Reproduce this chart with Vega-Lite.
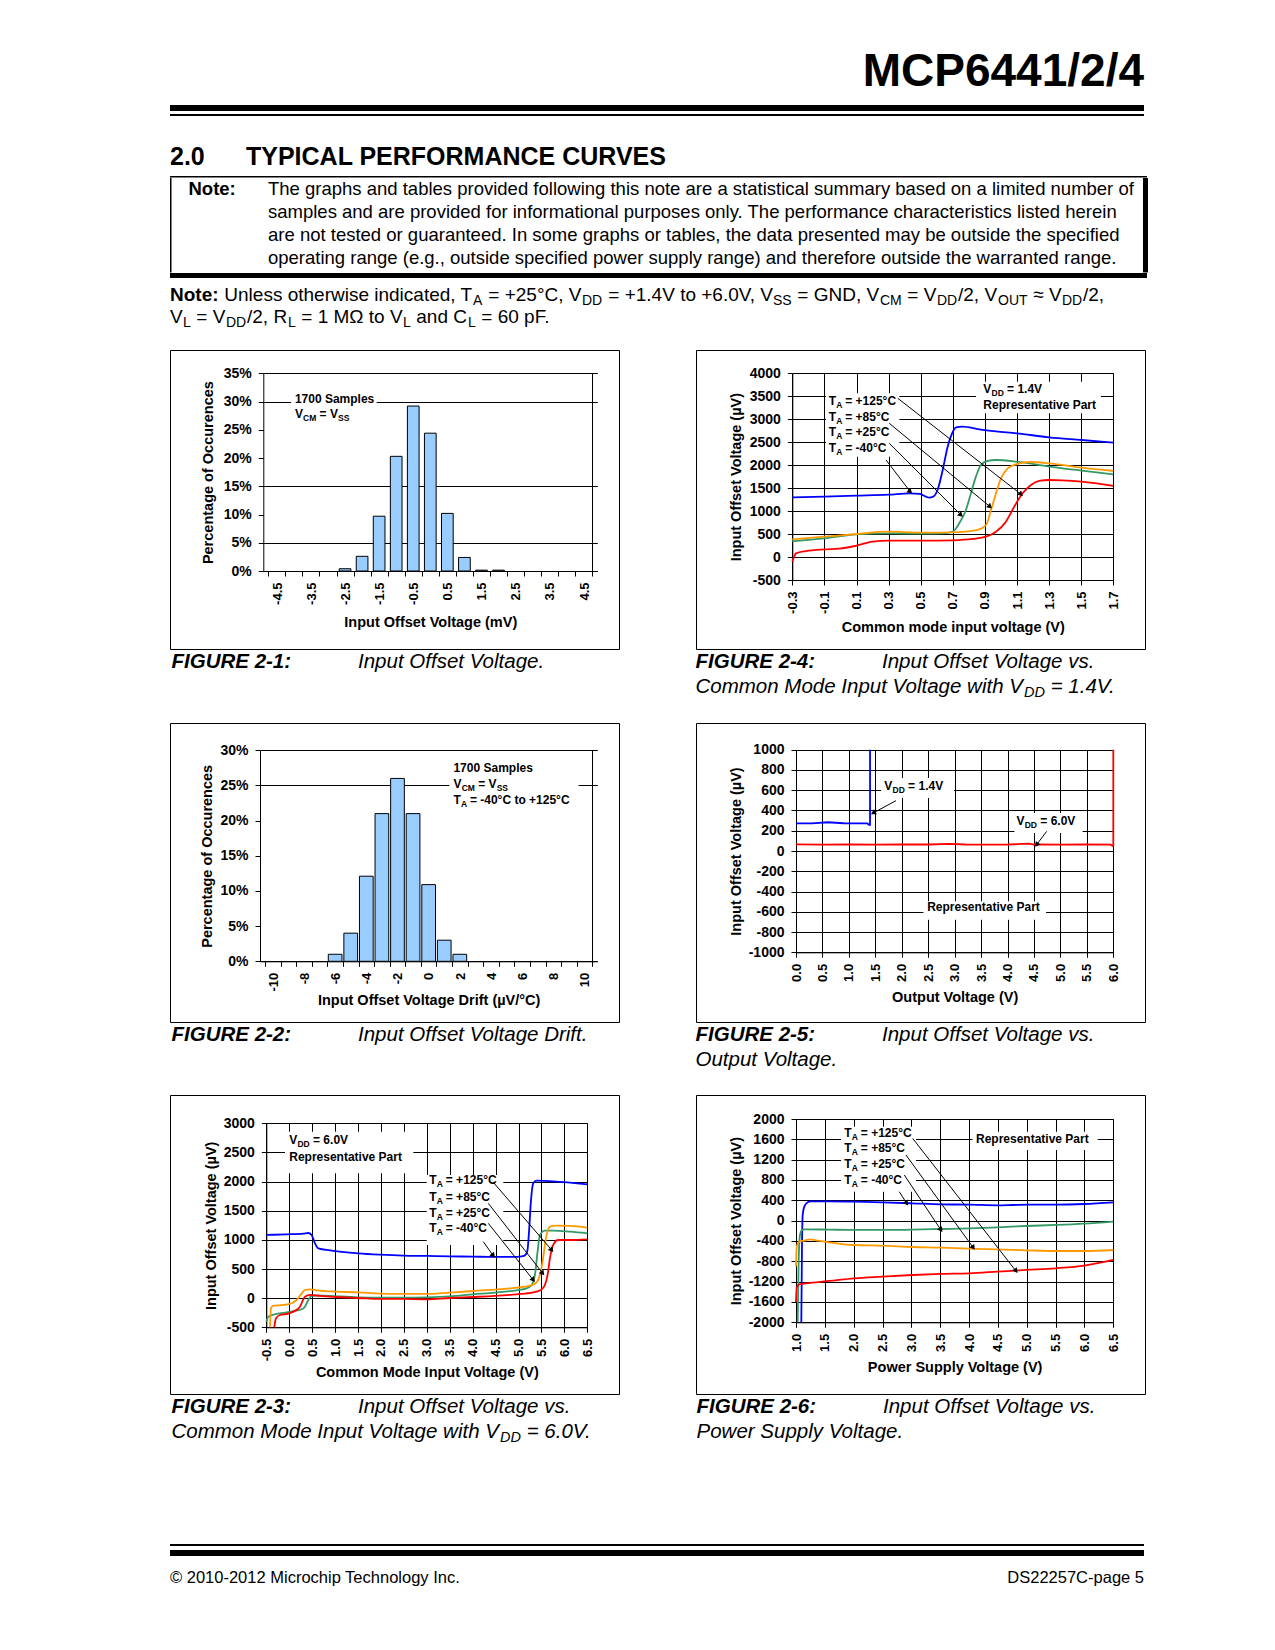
{
"$schema": "https://vega.github.io/schema/vega-lite/v6.json",
"background": "white",
"padding": {"left": 169, "top": 0, "right": 10, "bottom": 10},
"data": {"values": []},
"config": {
  "font": "Liberation Sans",
  "view": {"stroke": null},
  "concat": {"spacing": 0},
  "title": {"anchor": "start", "frame": "group", "color": "black", "fontWeight": "normal", "fontStyle": "normal"},
  "axis": {"labelFontWeight": "bold", "labelFontSize": 14, "labelColor": "black", "titleFontWeight": "bold", "titleFontSize": 14.5, "titleColor": "black", "domainColor": "black", "tickColor": "black", "gridColor": "black", "gridOpacity": 1, "tickSize": 5, "labelPadding": 6, "labelOverlap": false, "labelFlush": false, "labelBound": false, "titlePadding": 0},
  "locale": {"number": {"decimal": ".", "thousands": ",", "grouping": [3], "currency": ["$", ""], "minus": "-"}}
},
"datasets": {
  "b1": [{"x":-2.5,"y":0.4},{"x":-2.0,"y":2.6},{"x":-1.5,"y":9.7},{"x":-1.0,"y":20.3},{"x":-0.5,"y":29.2},{"x":0.0,"y":24.4},{"x":0.5,"y":10.2},{"x":1.0,"y":2.4},{"x":1.5,"y":0.15},{"x":2.0,"y":0.15}],
  "a1": [{"k":"plain","x":-3.97,"y":29.7,"a":"1700 Samples"},{"k":"VCM","x":-3.97,"y":27.0,"a":"V","b":"CM","c":"= V","d":"SS"}],
  "b2": [{"x":-6,"y":1.0},{"x":-5,"y":4.0},{"x":-4,"y":12.1},{"x":-3,"y":21.0},{"x":-2,"y":26.0},{"x":-1,"y":21.0},{"x":0,"y":10.9},{"x":1,"y":3.0},{"x":2,"y":1.0}],
  "a2": [{"k":"plain","x":1.59,"y":26.9,"a":"1700 Samples"},{"k":"VCM","x":1.59,"y":24.7,"a":"V","b":"CM","c":"= V","d":"SS"},{"k":"TA","x":1.59,"y":22.4,"a":"T","b":"A","c":"= -40°C to +125°C"}],
  "l4": [
    {"s":"-40","x":-0.3,"y":1300},{"s":"-40","x":-0.1,"y":1315},{"s":"-40","x":0.1,"y":1336},{"s":"-40","x":0.3,"y":1358},{"s":"-40","x":0.43,"y":1387},{"s":"-40","x":0.495,"y":1373},{"s":"-40","x":0.533,"y":1315},{"s":"-40","x":0.553,"y":1293},{"s":"-40","x":0.578,"y":1315},{"s":"-40","x":0.605,"y":1460},{"s":"-40","x":0.637,"y":1895},{"s":"-40","x":0.668,"y":2403},{"s":"-40","x":0.693,"y":2672},{"s":"-40","x":0.72,"y":2824},{"s":"-40","x":0.761,"y":2839},{"s":"-40","x":0.865,"y":2781},{"s":"-40","x":0.969,"y":2737},{"s":"-40","x":1.098,"y":2694},{"s":"-40","x":1.3,"y":2606},{"s":"-40","x":1.503,"y":2548},{"s":"-40","x":1.7,"y":2490},
    {"s":"25","x":-0.3,"y":342},{"s":"25","x":-0.1,"y":407},{"s":"25","x":0.1,"y":494},{"s":"25","x":0.3,"y":516},{"s":"25","x":0.5,"y":509},{"s":"25","x":0.637,"y":516},{"s":"25","x":0.7,"y":553},{"s":"25","x":0.74,"y":734},{"s":"25","x":0.782,"y":1024},{"s":"25","x":0.813,"y":1387},{"s":"25","x":0.844,"y":1750},{"s":"25","x":0.875,"y":2004},{"s":"25","x":0.917,"y":2091},{"s":"25","x":0.969,"y":2113},{"s":"25","x":1.098,"y":2077},{"s":"25","x":1.3,"y":1968},{"s":"25","x":1.503,"y":1881},{"s":"25","x":1.7,"y":1801},
    {"s":"85","x":-0.3,"y":385},{"s":"85","x":-0.1,"y":443},{"s":"85","x":0.1,"y":501},{"s":"85","x":0.3,"y":552},{"s":"85","x":0.5,"y":531},{"s":"85","x":0.7,"y":538},{"s":"85","x":0.782,"y":553},{"s":"85","x":0.855,"y":589},{"s":"85","x":0.907,"y":698},{"s":"85","x":0.938,"y":1024},{"s":"85","x":0.969,"y":1387},{"s":"85","x":1.0,"y":1714},{"s":"85","x":1.042,"y":1931},{"s":"85","x":1.094,"y":2019},{"s":"85","x":1.177,"y":2069},{"s":"85","x":1.3,"y":2040},{"s":"85","x":1.503,"y":1946},{"s":"85","x":1.7,"y":1873},
    {"s":"125","x":-0.3,"y":-101},{"s":"125","x":-0.277,"y":81},{"s":"125","x":-0.215,"y":131},{"s":"125","x":-0.1,"y":168},{"s":"125","x":-0.007,"y":182},{"s":"125","x":0.1,"y":248},{"s":"125","x":0.2,"y":335},{"s":"125","x":0.3,"y":356},{"s":"125","x":0.5,"y":356},{"s":"125","x":0.7,"y":364},{"s":"125","x":0.824,"y":393},{"s":"125","x":0.907,"y":443},{"s":"125","x":0.969,"y":552},{"s":"125","x":1.031,"y":770},{"s":"125","x":1.083,"y":1097},{"s":"125","x":1.135,"y":1387},{"s":"125","x":1.187,"y":1569},{"s":"125","x":1.238,"y":1656},{"s":"125","x":1.3,"y":1677},{"s":"125","x":1.383,"y":1670},{"s":"125","x":1.503,"y":1641},{"s":"125","x":1.7,"y":1547}
  ],
  "a4": [{"k":"TA","x":-0.073,"y":3310,"a":"T","b":"A","c":"= +125°C"},{"k":"TA","x":-0.073,"y":2968,"a":"T","b":"A","c":"= +85°C"},{"k":"TA","x":-0.073,"y":2635,"a":"T","b":"A","c":"= +25°C"},{"k":"TA","x":-0.073,"y":2293,"a":"T","b":"A","c":"= -40°C"},{"k":"VDD","x":0.89,"y":3565,"a":"V","b":"DD","c":"= 1.4V"},{"k":"plain","x":0.89,"y":3216,"a":"Representative Part"}],
  "r4": [{"x":0.357,"y":3456,"x2":1.125,"y2":1366},{"x":0.304,"y":2912,"x2":0.932,"y2":1096},{"x":0.304,"y":2476,"x2":0.751,"y2":915},{"x":0.284,"y":2113,"x2":0.435,"y2":1422}],
  "l5": [
    {"s":"1.4","x":0,"y":272},{"s":"1.4","x":0.3,"y":273},{"s":"1.4","x":0.6,"y":284},{"s":"1.4","x":0.9,"y":274},{"s":"1.4","x":1.2,"y":273},{"s":"1.4","x":1.35,"y":272},{"s":"1.4","x":1.385,"y":258},{"s":"1.4","x":1.395,"y":257},{"s":"1.4","x":1.4,"y":262},{"s":"1.4","x":1.4,"y":1000},
    {"s":"6.0","x":0,"y":65},{"s":"6.0","x":0.5,"y":62},{"s":"6.0","x":1.0,"y":64},{"s":"6.0","x":1.5,"y":63},{"s":"6.0","x":2.0,"y":64},{"s":"6.0","x":2.5,"y":64},{"s":"6.0","x":2.9,"y":71},{"s":"6.0","x":3.2,"y":64},{"s":"6.0","x":3.5,"y":63},{"s":"6.0","x":4.0,"y":64},{"s":"6.0","x":4.4,"y":73},{"s":"6.0","x":4.5,"y":64},{"s":"6.0","x":5.0,"y":63},{"s":"6.0","x":5.5,"y":64},{"s":"6.0","x":5.95,"y":62},{"s":"6.0","x":5.99,"y":50},{"s":"6.0","x":6.0,"y":58},{"s":"6.0","x":6.0,"y":1000}
  ],
  "a5": [{"k":"VDD","x":1.67,"y":605,"a":"V","b":"DD","c":"= 1.4V"},{"k":"VDD","x":4.17,"y":260,"a":"V","b":"DD","c":"= 6.0V"},{"k":"plain","x":2.48,"y":-595,"a":"Representative Part"}],
  "r5": [{"k":"a","x":1.89,"y":497,"x2":1.46,"y2":375},{"k":"b","x":4.74,"y":194,"x2":4.55,"y2":62}],
  "l3": [
    {"s":"-40","x":-0.5,"y":1084},{"s":"-40","x":-0.057,"y":1096},{"s":"-40","x":0.307,"y":1107},{"s":"-40","x":0.416,"y":1118},{"s":"-40","x":0.488,"y":1084},{"s":"-40","x":0.561,"y":941},{"s":"-40","x":0.634,"y":855},{"s":"-40","x":0.888,"y":821},{"s":"-40","x":1.506,"y":770},{"s":"-40","x":1.978,"y":747},{"s":"-40","x":2.487,"y":730},{"s":"-40","x":2.996,"y":724},{"s":"-40","x":3.504,"y":718},{"s":"-40","x":4.013,"y":712},{"s":"-40","x":4.485,"y":707},{"s":"-40","x":4.958,"y":707},{"s":"-40","x":5.118,"y":724},{"s":"-40","x":5.19,"y":798},{"s":"-40","x":5.234,"y":1199},{"s":"-40","x":5.27,"y":1656},{"s":"-40","x":5.321,"y":1971},{"s":"-40","x":5.394,"y":2016},{"s":"-40","x":5.757,"y":2005},{"s":"-40","x":6.12,"y":1982},{"s":"-40","x":6.5,"y":1953},
    {"s":"25","x":-0.5,"y":-403},{"s":"25","x":-0.456,"y":-317},{"s":"25","x":-0.275,"y":-271},{"s":"25","x":-0.057,"y":-243},{"s":"25","x":0.125,"y":-220},{"s":"25","x":0.27,"y":-191},{"s":"25","x":0.343,"y":-146},{"s":"25","x":0.416,"y":-31},{"s":"25","x":0.488,"y":38},{"s":"25","x":0.634,"y":49},{"s":"25","x":1.033,"y":32},{"s":"25","x":1.506,"y":15},{"s":"25","x":1.978,"y":9},{"s":"25","x":2.487,"y":9},{"s":"25","x":2.996,"y":15},{"s":"25","x":3.504,"y":32},{"s":"25","x":4.013,"y":66},{"s":"25","x":4.485,"y":95},{"s":"25","x":4.958,"y":135},{"s":"25","x":5.176,"y":169},{"s":"25","x":5.285,"y":226},{"s":"25","x":5.358,"y":398},{"s":"25","x":5.416,"y":798},{"s":"25","x":5.467,"y":1084},{"s":"25","x":5.576,"y":1158},{"s":"25","x":5.757,"y":1158},{"s":"25","x":6.12,"y":1141},{"s":"25","x":6.5,"y":1113},
    {"s":"85","x":-0.42,"y":-500},{"s":"85","x":-0.398,"y":-174},{"s":"85","x":-0.347,"y":-128},{"s":"85","x":-0.129,"y":-117},{"s":"85","x":0.052,"y":-88},{"s":"85","x":0.161,"y":-31},{"s":"85","x":0.249,"y":55},{"s":"85","x":0.343,"y":140},{"s":"85","x":0.452,"y":152},{"s":"85","x":0.597,"y":135},{"s":"85","x":1.033,"y":112},{"s":"85","x":1.506,"y":100},{"s":"85","x":1.978,"y":78},{"s":"85","x":2.487,"y":72},{"s":"85","x":2.996,"y":72},{"s":"85","x":3.504,"y":95},{"s":"85","x":4.013,"y":123},{"s":"85","x":4.485,"y":146},{"s":"85","x":4.958,"y":180},{"s":"85","x":5.249,"y":215},{"s":"85","x":5.394,"y":272},{"s":"85","x":5.467,"y":398},{"s":"85","x":5.525,"y":627},{"s":"85","x":5.597,"y":1027},{"s":"85","x":5.685,"y":1227},{"s":"85","x":5.83,"y":1244},{"s":"85","x":6.12,"y":1239},{"s":"85","x":6.5,"y":1210},
    {"s":"125","x":-0.326,"y":-500},{"s":"125","x":-0.289,"y":-346},{"s":"125","x":-0.202,"y":-289},{"s":"125","x":-0.02,"y":-266},{"s":"125","x":0.089,"y":-231},{"s":"125","x":0.234,"y":-146},{"s":"125","x":0.343,"y":26},{"s":"125","x":0.452,"y":55},{"s":"125","x":0.67,"y":38},{"s":"125","x":1.033,"y":20},{"s":"125","x":1.506,"y":3},{"s":"125","x":1.978,"y":-14},{"s":"125","x":2.487,"y":-14},{"s":"125","x":2.996,"y":-20},{"s":"125","x":3.504,"y":3},{"s":"125","x":4.013,"y":20},{"s":"125","x":4.485,"y":38},{"s":"125","x":4.958,"y":66},{"s":"125","x":5.321,"y":100},{"s":"125","x":5.488,"y":140},{"s":"125","x":5.576,"y":226},{"s":"125","x":5.634,"y":398},{"s":"125","x":5.685,"y":684},{"s":"125","x":5.757,"y":913},{"s":"125","x":5.866,"y":998},{"s":"125","x":6.12,"y":998},{"s":"125","x":6.5,"y":1010}
  ],
  "a3": [{"k":"TA","x":3.054,"y":1953,"a":"T","b":"A","c":"= +125°C"},{"k":"TA","x":3.054,"y":1667,"a":"T","b":"A","c":"= +85°C"},{"k":"TA","x":3.054,"y":1398,"a":"T","b":"A","c":"= +25°C"},{"k":"TA","x":3.054,"y":1130,"a":"T","b":"A","c":"= -40°C"},{"k":"VDD","x":0.0,"y":2640,"a":"V","b":"DD","c":"= 6.0V"},{"k":"plain","x":0.0,"y":2353,"a":"Representative Part"}],
  "r3": [{"x":4.45,"y":1988,"x2":5.723,"y2":826},{"x":4.341,"y":1627,"x2":5.527,"y2":427},{"x":4.341,"y":1284,"x2":5.322,"y2":312},{"x":4.232,"y":969,"x2":4.45,"y2":728}],
  "l6": [
    {"s":"-40","x":1.092,"y":-2000},{"s":"-40","x":1.104,"y":-479},{"s":"-40","x":1.116,"y":112},{"s":"-40","x":1.144,"y":276},{"s":"-40","x":1.202,"y":361},{"s":"-40","x":1.26,"y":380},{"s":"-40","x":1.578,"y":380},{"s":"-40","x":2.011,"y":374},{"s":"-40","x":2.502,"y":361},{"s":"-40","x":3.022,"y":341},{"s":"-40","x":3.513,"y":321},{"s":"-40","x":4.004,"y":315},{"s":"-40","x":4.495,"y":302},{"s":"-40","x":4.755,"y":308},{"s":"-40","x":5.044,"y":315},{"s":"-40","x":5.506,"y":315},{"s":"-40","x":5.997,"y":328},{"s":"-40","x":6.5,"y":361},
    {"s":"25","x":1.029,"y":-2000},{"s":"25","x":1.046,"y":-806},{"s":"25","x":1.069,"y":-282},{"s":"25","x":1.104,"y":-183},{"s":"25","x":1.144,"y":-170},{"s":"25","x":1.578,"y":-177},{"s":"25","x":2.011,"y":-183},{"s":"25","x":2.502,"y":-183},{"s":"25","x":3.022,"y":-177},{"s":"25","x":3.513,"y":-164},{"s":"25","x":4.004,"y":-151},{"s":"25","x":4.495,"y":-131},{"s":"25","x":4.986,"y":-105},{"s":"25","x":5.506,"y":-85},{"s":"25","x":5.997,"y":-59},{"s":"25","x":6.5,"y":-20},
    {"s":"85","x":1.0,"y":-900},{"s":"85","x":1.012,"y":-511},{"s":"85","x":1.058,"y":-413},{"s":"85","x":1.144,"y":-393},{"s":"85","x":1.231,"y":-367},{"s":"85","x":1.347,"y":-387},{"s":"85","x":1.578,"y":-426},{"s":"85","x":2.011,"y":-479},{"s":"85","x":2.502,"y":-492},{"s":"85","x":3.022,"y":-518},{"s":"85","x":3.513,"y":-531},{"s":"85","x":4.004,"y":-551},{"s":"85","x":4.495,"y":-564},{"s":"85","x":4.986,"y":-583},{"s":"85","x":5.506,"y":-597},{"s":"85","x":5.997,"y":-597},{"s":"85","x":6.5,"y":-577},
    {"s":"125","x":1.0,"y":-1600},{"s":"125","x":1.012,"y":-1318},{"s":"125","x":1.058,"y":-1252},{"s":"125","x":1.173,"y":-1233},{"s":"125","x":1.578,"y":-1187},{"s":"125","x":2.011,"y":-1134},{"s":"125","x":2.502,"y":-1101},{"s":"125","x":3.022,"y":-1069},{"s":"125","x":3.513,"y":-1049},{"s":"125","x":4.004,"y":-1036},{"s":"125","x":4.495,"y":-1003},{"s":"125","x":4.986,"y":-970},{"s":"125","x":5.506,"y":-937},{"s":"125","x":5.997,"y":-885},{"s":"125","x":6.5,"y":-774}
  ],
  "a6": [{"k":"TA","x":1.837,"y":1652,"a":"T","b":"A","c":"= +125°C"},{"k":"TA","x":1.837,"y":1345,"a":"T","b":"A","c":"= +85°C"},{"k":"TA","x":1.837,"y":1030,"a":"T","b":"A","c":"= +25°C"},{"k":"TA","x":1.837,"y":715,"a":"T","b":"A","c":"= -40°C"},{"k":"plain","x":4.12,"y":1522,"a":"Representative Part"}],
  "r6": [{"x":3.022,"y":1620,"x2":4.813,"y2":-991},{"x":2.906,"y":1292,"x2":4.073,"y2":-532},{"x":2.877,"y":898,"x2":3.513,"y2":-184},{"x":2.79,"y":570,"x2":2.918,"y2":341}]
},
"spacing": 0,
"vconcat": [
  {"width": 974, "height": 105, "mark": "point", "title": {"text": "MCP6441/2/4", "anchor": "end", "fontSize": 46, "fontWeight": "bold", "offset": -95.7}},
  {"width": 974, "height": 6, "mark": "point", "view": {"fill": "black"}},
  {"width": 974, "height": 3, "mark": "point"},
  {"width": 974, "height": 2, "mark": "point", "view": {"fill": "black"}},
  {"spacing": 0, "hconcat": [
    {"width": 76, "height": 60, "mark": "point", "title": {"text": "2.0", "fontSize": 25, "fontWeight": "bold", "offset": -54.3}},
    {"width": 898, "height": 60, "mark": "point", "title": {"text": "TYPICAL PERFORMANCE CURVES", "fontSize": 25, "fontWeight": "bold", "offset": -54.3}}
  ]},
  {"spacing": 0, "vconcat": [
    {"width": 977, "height": 1.5, "mark": "point", "view": {"fill": "black"}},
    {"spacing": 0, "hconcat": [
      {"width": 1.5, "height": 94.5, "mark": "point", "view": {"fill": "black"}},
      {"width": 95.5, "height": 94.5, "mark": "point", "title": {"text": "Note:", "fontSize": 18.5, "fontWeight": "bold", "dx": 16.5, "offset": -20.4}},
      {"width": 875, "height": 94.5, "mark": "point", "title": {"text": ["The graphs and tables provided following this note are a statistical summary based on a limited number of", "samples and are provided for informational purposes only. The performance characteristics listed herein", "are not tested or guaranteed. In some graphs or tables, the data presented may be outside the specified", "operating range (e.g., outside specified power supply range) and therefore outside the warranted range."], "fontSize": 18.5, "lineHeight": 23, "offset": -89.4}},
      {"width": 5, "height": 94.5, "mark": "point", "view": {"fill": "black"}}
    ]},
    {"width": 977, "height": 5, "mark": "point", "view": {"fill": "black"}}
  ]},
  {"spacing": 0, "hconcat": [
    {"width": 48.5, "height": 30, "mark": "point", "title": {"text": "Note:", "fontSize": 19, "fontWeight": "bold", "offset": -27}},
    {"width": 253.4, "height": 30, "mark": "point", "title": {"text": "Unless otherwise indicated, T", "fontSize": 19, "dx": 5.3, "offset": -27}},
    {"width": 9.3, "height": 30, "mark": "point", "title": {"text": "A", "fontSize": 14, "offset": -29.9}},
    {"width": 98.4, "height": 30, "mark": "point", "title": {"text": "= +25°C, V", "fontSize": 19, "dx": 5.3, "offset": -27}},
    {"width": 20.2, "height": 30, "mark": "point", "title": {"text": "DD", "fontSize": 14, "offset": -29.9}},
    {"width": 169.7, "height": 30, "mark": "point", "title": {"text": "= +1.4V to +6.0V, V", "fontSize": 19, "dx": 5.3, "offset": -27}},
    {"width": 18.7, "height": 30, "mark": "point", "title": {"text": "SS", "fontSize": 14, "offset": -29.9}},
    {"width": 87.1, "height": 30, "mark": "point", "title": {"text": "= GND, V", "fontSize": 19, "dx": 5.3, "offset": -27}},
    {"width": 21.8, "height": 30, "mark": "point", "title": {"text": "CM", "fontSize": 14, "offset": -29.9}},
    {"width": 34.3, "height": 30, "mark": "point", "title": {"text": "= V", "fontSize": 19, "dx": 5.3, "offset": -27}},
    {"width": 20.2, "height": 30, "mark": "point", "title": {"text": "DD", "fontSize": 14, "offset": -29.9}},
    {"width": 39.1, "height": 30, "mark": "point", "title": {"text": "/2, V", "fontSize": 19, "offset": -27}},
    {"width": 29.6, "height": 30, "mark": "point", "title": {"text": "OUT", "fontSize": 14, "offset": -29.9}},
    {"width": 33.7, "height": 30, "mark": "point", "title": {"text": "≈ V", "fontSize": 19, "dx": 5.3, "offset": -27}},
    {"width": 20.2, "height": 30, "mark": "point", "title": {"text": "DD", "fontSize": 14, "offset": -29.9}},
    {"width": 30, "height": 30, "mark": "point", "title": {"text": "/2,", "fontSize": 19, "offset": -27}}
  ]},
  {"spacing": 0, "hconcat": [
    {"width": 12.7, "height": 22, "mark": "point", "title": {"text": "V", "fontSize": 19, "offset": -19}},
    {"width": 7.8, "height": 22, "mark": "point", "title": {"text": "L", "fontSize": 14, "offset": -21.9}},
    {"width": 34.3, "height": 22, "mark": "point", "title": {"text": "= V", "fontSize": 19, "dx": 5.3, "offset": -19}},
    {"width": 20.2, "height": 22, "mark": "point", "title": {"text": "DD", "fontSize": 14, "offset": -21.9}},
    {"width": 40.1, "height": 22, "mark": "point", "title": {"text": "/2, R", "fontSize": 19, "offset": -19}},
    {"width": 7.8, "height": 22, "mark": "point", "title": {"text": "L", "fontSize": 14, "offset": -21.9}},
    {"width": 107, "height": 22, "mark": "point", "title": {"text": "= 1 MΩ to V", "fontSize": 19, "dx": 5.3, "offset": -19}},
    {"width": 7.8, "height": 22, "mark": "point", "title": {"text": "L", "fontSize": 14, "offset": -21.9}},
    {"width": 56, "height": 22, "mark": "point", "title": {"text": "and C", "fontSize": 19, "dx": 5.3, "offset": -19}},
    {"width": 7.8, "height": 22, "mark": "point", "title": {"text": "L", "fontSize": 14, "offset": -21.9}},
    {"width": 80, "height": 22, "mark": "point", "title": {"text": "= 60 pF.", "fontSize": 19, "dx": 5.3, "offset": -19}}
  ]},
  {"width": 974, "height": 19, "mark": "point"},
  {"spacing": 75, "hconcat": [
    {
      "width": 449, "height": 299, "view": {"stroke": "black", "strokeWidth": 1},
      "resolve": {"axis": {"x": "independent", "y": "independent"}},
      "encoding": {
        "x": {"field": "x", "type": "quantitative", "scale": {"domain": [-4.75, 4.75], "range": [93.3, 427.3], "nice": false, "zero": false}, "axis": null},
        "y": {"field": "y", "type": "quantitative", "scale": {"domain": [0, 35], "range": [221, 23.3], "nice": false, "zero": false}, "axis": null}
      },
      "layer": [
        {"data": {"values": [{"x": -4.085, "x2": -1.573, "y": 32.0, "y2": 25.8}]}, "mark": {"type": "rect", "fill": "white"},
         "encoding": {"x": {"field": "x", "type": "quantitative", "scale": {"domain": [-4.75, 4.75], "range": [93.3, 427.3], "nice": false, "zero": false}, "axis": {"orient": "top", "values": [4.75], "grid": true, "labels": false, "ticks": false, "domain": false, "title": null}}, "x2": {"field": "x2"}, "y2": {"field": "y2"}}},
        {"data": {"name": "b1"}, "mark": {"type": "bar", "width": 11.7, "fill": "#99ccff", "stroke": "black", "strokeWidth": 1},
         "encoding": {
           "x": {"field": "x", "type": "quantitative", "scale": {"domain": [-4.75, 4.75], "range": [93.3, 427.3], "nice": false, "zero": false}, "axis": {"orient": "bottom", "offset": -78, "values": [-4.75,-4.25,-3.75,-3.25,-2.75,-2.25,-1.75,-1.25,-0.75,-0.25,0.25,0.75,1.25,1.75,2.25,2.75,3.25,3.75,4.25,4.75], "labelExpr": "datum.value < 4.7 && round((datum.value + 4.75) * 2) % 2 == 0 ? format(datum.value + 0.25, '.1f') : ''", "labelOffset": 8.79, "labelAngle": -90, "labelFontSize": 13, "grid": false, "title": "Input Offset Voltage (mV)", "titleY": 55, "titleBaseline": "alphabetic"}},
           "y": {"field": "y", "type": "quantitative", "scale": {"domain": [0, 35], "range": [221, 23.3], "nice": false, "zero": false}, "axis": {"orient": "left", "offset": -93.3, "values": [0,5,10,15,20,25,30,35], "labelExpr": "datum.value + '%'", "labelPadding": 7, "grid": true, "gridOpacity": {"condition": {"test": "datum.value == 10 || datum.value == 20 || datum.value == 25", "value": 0}, "value": 1}, "title": "Percentage of Occurences", "titleX": -50.3, "titleBaseline": "alphabetic"}}
         }},
        {"data": {"name": "a1"}, "mark": {"type": "text", "align": "left", "baseline": "alphabetic", "fontSize": 12, "fontWeight": "bold", "color": "black"}, "encoding": {"text": {"field": "a"}}},
        {"data": {"name": "a1"}, "transform": [{"filter": "datum.k == 'VCM'"}], "mark": {"type": "text", "align": "left", "baseline": "alphabetic", "fontSize": 8.5, "fontWeight": "bold", "color": "black", "dx": 8.2, "dy": 3}, "encoding": {"text": {"field": "b"}}},
        {"data": {"name": "a1"}, "transform": [{"filter": "datum.k == 'VCM'"}], "mark": {"type": "text", "align": "left", "baseline": "alphabetic", "fontSize": 12, "fontWeight": "bold", "color": "black", "dx": 24.7}, "encoding": {"text": {"field": "c"}}},
        {"data": {"name": "a1"}, "transform": [{"filter": "datum.k == 'VCM'"}], "mark": {"type": "text", "align": "left", "baseline": "alphabetic", "fontSize": 8.5, "fontWeight": "bold", "color": "black", "dx": 43.2, "dy": 3}, "encoding": {"text": {"field": "d"}}}
      ]
    },
    {
      "width": 449, "height": 299, "view": {"stroke": "black", "strokeWidth": 1},
      "resolve": {"axis": {"x": "independent", "y": "independent"}},
      "encoding": {
        "x": {"field": "x", "type": "quantitative", "scale": {"domain": [-0.3, 1.7], "range": [96.3, 417.3], "nice": false, "zero": false}, "axis": null},
        "y": {"field": "y", "type": "quantitative", "scale": {"domain": [-500, 4000], "range": [230, 23.3], "nice": false, "zero": false}, "axis": null}
      },
      "layer": [
        {"data": {"values": [{"x": 0.845, "x2": 1.623, "y": 3817, "y2": 3129}, {"x": -0.09, "x2": 0.367, "y": 3565, "y2": 2184}]}, "mark": {"type": "rect", "fill": "white"},
         "encoding": {"x": {"field": "x", "type": "quantitative", "scale": {"domain": [-0.3, 1.7], "range": [96.3, 417.3], "nice": false, "zero": false}, "axis": {"orient": "top", "values": [-0.3,-0.1,0.1,0.3,0.5,0.7,0.9,1.1,1.3,1.5,1.7], "grid": true, "labels": false, "ticks": false, "domain": false, "title": null}}, "x2": {"field": "x2"}, "y2": {"field": "y2"}}},
        {"data": {"name": "l4"}, "mark": {"type": "line", "strokeWidth": 1.8, "interpolate": "monotone"},
         "encoding": {
           "x": {"field": "x", "type": "quantitative", "scale": {"domain": [-0.3, 1.7], "range": [96.3, 417.3], "nice": false, "zero": false}, "axis": {"orient": "bottom", "offset": -69, "values": [-0.3,-0.1,0.1,0.3,0.5,0.7,0.9,1.1,1.3,1.5,1.7], "format": ".1f", "labelAngle": -90, "labelFontSize": 13, "grid": false, "title": "Common mode input voltage (V)", "titleY": 51.7, "titleBaseline": "alphabetic"}},
           "y": {"field": "y", "type": "quantitative", "scale": {"domain": [-500, 4000], "range": [230, 23.3], "nice": false, "zero": false}, "axis": {"orient": "left", "offset": -96.3, "values": [-500,0,500,1000,1500,2000,2500,3000,3500,4000], "format": "d", "labelPadding": 7, "grid": true, "title": "Input Offset Voltage (µV)", "titleX": -52, "titleBaseline": "alphabetic"}},
           "color": {"field": "s", "type": "nominal", "scale": {"domain": ["-40","25","85","125","1.4","6.0"], "range": ["#0000ff","#339966","#ff9900","#ff0000","#0000ff","#ff0000"]}, "legend": null}
         }},
        {"data": {"name": "r4"}, "mark": {"type": "rule", "color": "black", "strokeWidth": 1}, "encoding": {"x2": {"field": "x2"}, "y2": {"field": "y2"}}},
        {"data": {"name": "r4"}, "mark": {"type": "point", "shape": "triangle-right", "filled": true, "color": "black", "opacity": 1, "size": 35, "angle": 42},
         "encoding": {"x": {"field": "x2", "type": "quantitative", "scale": {"domain": [-0.3, 1.7], "range": [96.3, 417.3], "nice": false, "zero": false}, "axis": null}, "y": {"field": "y2", "type": "quantitative", "scale": {"domain": [-500, 4000], "range": [230, 23.3], "nice": false, "zero": false}, "axis": null}}},
        {"data": {"name": "a4"}, "mark": {"type": "text", "align": "left", "baseline": "alphabetic", "fontSize": 12, "fontWeight": "bold", "color": "black"}, "encoding": {"text": {"field": "a"}}},
        {"data": {"name": "a4"}, "transform": [{"filter": "datum.k == 'TA'"}], "mark": {"type": "text", "align": "left", "baseline": "alphabetic", "fontSize": 8.5, "fontWeight": "bold", "color": "black", "dx": 7.5, "dy": 3}, "encoding": {"text": {"field": "b"}}},
        {"data": {"name": "a4"}, "transform": [{"filter": "datum.k == 'TA'"}], "mark": {"type": "text", "align": "left", "baseline": "alphabetic", "fontSize": 12, "fontWeight": "bold", "color": "black", "dx": 16.5}, "encoding": {"text": {"field": "c"}}},
        {"data": {"name": "a4"}, "transform": [{"filter": "datum.k == 'VDD'"}], "mark": {"type": "text", "align": "left", "baseline": "alphabetic", "fontSize": 8.5, "fontWeight": "bold", "color": "black", "dx": 8.2, "dy": 3}, "encoding": {"text": {"field": "b"}}},
        {"data": {"name": "a4"}, "transform": [{"filter": "datum.k == 'VDD'"}], "mark": {"type": "text", "align": "left", "baseline": "alphabetic", "fontSize": 12, "fontWeight": "bold", "color": "black", "dx": 23.8}, "encoding": {"text": {"field": "c"}}}
      ]
    }
  ]},
  {"spacing": 75, "hconcat": [
    {"spacing": 0, "vconcat": [
      {"spacing": 0, "hconcat": [
        {"width": 188, "height": 23, "mark": "point", "title": {"text": "FIGURE 2-1:", "fontSize": 20.5, "fontWeight": "bold", "fontStyle": "italic", "dx": 1.5, "offset": -22.3}},
        {"width": 261, "height": 23, "mark": "point", "title": {"text": "Input Offset Voltage.", "fontSize": 20.5, "fontStyle": "italic", "offset": -22.3}}
      ]},
      {"width": 449, "height": 27, "mark": "point"}
    ]},
    {"spacing": 0, "vconcat": [
      {"spacing": 0, "hconcat": [
        {"width": 188, "height": 23, "mark": "point", "title": {"text": "FIGURE 2-4:", "fontSize": 20.5, "fontWeight": "bold", "fontStyle": "italic", "dx": 1.5, "offset": -22.3}},
        {"width": 261, "height": 23, "mark": "point", "title": {"text": "Input Offset Voltage vs.", "fontSize": 20.5, "fontStyle": "italic", "offset": -22.3}}
      ]},
      {"spacing": 0, "hconcat": [
        {"width": 329.6, "height": 27, "mark": "point", "title": {"text": "Common Mode Input Voltage with V", "fontSize": 20.5, "fontStyle": "italic", "dx": 1.5, "offset": -24.3}},
        {"width": 20.9, "height": 27, "mark": "point", "title": {"text": "DD", "fontSize": 14.5, "fontStyle": "italic", "offset": -27}},
        {"width": 98.5, "height": 27, "mark": "point", "title": {"text": "= 1.4V.", "fontSize": 20.5, "fontStyle": "italic", "dx": 5.7, "offset": -24.3}}
      ]}
    ]}
  ]},
  {"width": 974, "height": 22, "mark": "point"},
  {"spacing": 75, "hconcat": [
    {
      "width": 449, "height": 299, "view": {"stroke": "black", "strokeWidth": 1},
      "resolve": {"axis": {"x": "independent", "y": "independent"}},
      "encoding": {
        "x": {"field": "x", "type": "quantitative", "scale": {"domain": [-10.5, 10.5], "range": [90, 427.3], "nice": false, "zero": false}, "axis": null},
        "y": {"field": "y", "type": "quantitative", "scale": {"domain": [0, 30], "range": [238.3, 27.3], "nice": false, "zero": false}, "axis": null}
      },
      "layer": [
        {"data": {"values": [{"x": 1.32, "x2": 9.62, "y": 28.9, "y2": 21.1}]}, "mark": {"type": "rect", "fill": "white"},
         "encoding": {"x": {"field": "x", "type": "quantitative", "scale": {"domain": [-10.5, 10.5], "range": [90, 427.3], "nice": false, "zero": false}, "axis": {"orient": "top", "values": [10.5], "grid": true, "labels": false, "ticks": false, "domain": false, "title": null}}, "x2": {"field": "x2"}, "y2": {"field": "y2"}}},
        {"data": {"name": "b2"}, "mark": {"type": "bar", "width": 13.7, "fill": "#99ccff", "stroke": "black", "strokeWidth": 1},
         "encoding": {
           "x": {"field": "x", "type": "quantitative", "scale": {"domain": [-10.5, 10.5], "range": [90, 427.3], "nice": false, "zero": false}, "axis": {"orient": "bottom", "offset": -60.7, "values": [-10.5,-9.5,-8.5,-7.5,-6.5,-5.5,-4.5,-3.5,-2.5,-1.5,-0.5,0.5,1.5,2.5,3.5,4.5,5.5,6.5,7.5,8.5,9.5,10.5], "labelExpr": "datum.value < 10 && round(datum.value + 0.5) % 2 == 0 ? format(datum.value + 0.5, 'd') : ''", "labelOffset": 8.03, "labelAngle": -90, "labelFontSize": 13, "grid": false, "title": "Input Offset Voltage Drift (µV/°C)", "titleY": 43, "titleBaseline": "alphabetic"}},
           "y": {"field": "y", "type": "quantitative", "scale": {"domain": [0, 30], "range": [238.3, 27.3], "nice": false, "zero": false}, "axis": {"orient": "left", "offset": -90, "values": [0,5,10,15,20,25,30], "labelExpr": "datum.value + '%'", "labelPadding": 7, "grid": true, "gridOpacity": {"condition": {"test": "datum.value > 0 && datum.value < 25", "value": 0}, "value": 1}, "title": "Percentage of Occurences", "titleX": -49, "titleBaseline": "alphabetic"}}
         }},
        {"data": {"name": "a2"}, "mark": {"type": "text", "align": "left", "baseline": "alphabetic", "fontSize": 12, "fontWeight": "bold", "color": "black"}, "encoding": {"text": {"field": "a"}}},
        {"data": {"name": "a2"}, "transform": [{"filter": "datum.k == 'VCM'"}], "mark": {"type": "text", "align": "left", "baseline": "alphabetic", "fontSize": 8.5, "fontWeight": "bold", "color": "black", "dx": 8.2, "dy": 3}, "encoding": {"text": {"field": "b"}}},
        {"data": {"name": "a2"}, "transform": [{"filter": "datum.k == 'VCM'"}], "mark": {"type": "text", "align": "left", "baseline": "alphabetic", "fontSize": 12, "fontWeight": "bold", "color": "black", "dx": 24.7}, "encoding": {"text": {"field": "c"}}},
        {"data": {"name": "a2"}, "transform": [{"filter": "datum.k == 'VCM'"}], "mark": {"type": "text", "align": "left", "baseline": "alphabetic", "fontSize": 8.5, "fontWeight": "bold", "color": "black", "dx": 43.2, "dy": 3}, "encoding": {"text": {"field": "d"}}},
        {"data": {"name": "a2"}, "transform": [{"filter": "datum.k == 'TA'"}], "mark": {"type": "text", "align": "left", "baseline": "alphabetic", "fontSize": 8.5, "fontWeight": "bold", "color": "black", "dx": 7.5, "dy": 3}, "encoding": {"text": {"field": "b"}}},
        {"data": {"name": "a2"}, "transform": [{"filter": "datum.k == 'TA'"}], "mark": {"type": "text", "align": "left", "baseline": "alphabetic", "fontSize": 12, "fontWeight": "bold", "color": "black", "dx": 16.5}, "encoding": {"text": {"field": "c"}}}
      ]
    },
    {
      "width": 449, "height": 299, "view": {"stroke": "black", "strokeWidth": 1},
      "resolve": {"axis": {"x": "independent", "y": "independent"}},
      "encoding": {
        "x": {"field": "x", "type": "quantitative", "scale": {"domain": [0, 6], "range": [100, 417.3], "nice": false, "zero": false}, "axis": null},
        "y": {"field": "y", "type": "quantitative", "scale": {"domain": [-1000, 1000], "range": [229.3, 26.7], "nice": false, "zero": false}, "axis": null}
      },
      "layer": [
        {"data": {"values": [{"x": 1.61, "x2": 2.99, "y": 721, "y2": 523}, {"x": 4.13, "x2": 5.42, "y": 375, "y2": 178}, {"x": 2.41, "x2": 4.73, "y": -497, "y2": -678}]}, "mark": {"type": "rect", "fill": "white"},
         "encoding": {"x": {"field": "x", "type": "quantitative", "scale": {"domain": [0, 6], "range": [100, 417.3], "nice": false, "zero": false}, "axis": {"orient": "top", "values": [0,0.5,1,1.5,2,2.5,3,3.5,4,4.5,5,5.5,6], "grid": true, "labels": false, "ticks": false, "domain": false, "title": null}}, "x2": {"field": "x2"}, "y2": {"field": "y2"}}},
        {"data": {"name": "l5"}, "mark": {"type": "line", "strokeWidth": 1.8},
         "encoding": {
           "x": {"field": "x", "type": "quantitative", "scale": {"domain": [0, 6], "range": [100, 417.3], "nice": false, "zero": false}, "axis": {"orient": "bottom", "offset": -69.7, "values": [0,0.5,1,1.5,2,2.5,3,3.5,4,4.5,5,5.5,6], "format": ".1f", "labelAngle": -90, "labelFontSize": 13, "grid": false, "title": "Output Voltage (V)", "titleY": 49, "titleBaseline": "alphabetic"}},
           "y": {"field": "y", "type": "quantitative", "scale": {"domain": [-1000, 1000], "range": [229.3, 26.7], "nice": false, "zero": false}, "axis": {"orient": "left", "offset": -100, "values": [-1000,-800,-600,-400,-200,0,200,400,600,800,1000], "format": "d", "labelPadding": 7, "grid": true, "title": "Input Offset Voltage (µV)", "titleX": -55.8, "titleBaseline": "alphabetic"}},
           "color": {"field": "s", "type": "nominal", "scale": {"domain": ["-40","25","85","125","1.4","6.0"], "range": ["#0000ff","#339966","#ff9900","#ff0000","#0000ff","#ff0000"]}, "legend": null},
           "order": {"value": null}
         }},
        {"data": {"name": "r5"}, "mark": {"type": "rule", "color": "black", "strokeWidth": 1}, "encoding": {"x2": {"field": "x2"}, "y2": {"field": "y2"}}},
        {"data": {"name": "r5"}, "transform": [{"filter": "datum.k == 'a'"}], "mark": {"type": "point", "shape": "triangle-right", "filled": true, "color": "black", "opacity": 1, "size": 35, "angle": 151},
         "encoding": {"x": {"field": "x2", "type": "quantitative", "scale": {"domain": [0, 6], "range": [100, 417.3], "nice": false, "zero": false}, "axis": null}, "y": {"field": "y2", "type": "quantitative", "scale": {"domain": [-1000, 1000], "range": [229.3, 26.7], "nice": false, "zero": false}, "axis": null}}},
        {"data": {"name": "r5"}, "transform": [{"filter": "datum.k == 'b'"}], "mark": {"type": "point", "shape": "triangle-right", "filled": true, "color": "black", "opacity": 1, "size": 35, "angle": 127},
         "encoding": {"x": {"field": "x2", "type": "quantitative", "scale": {"domain": [0, 6], "range": [100, 417.3], "nice": false, "zero": false}, "axis": null}, "y": {"field": "y2", "type": "quantitative", "scale": {"domain": [-1000, 1000], "range": [229.3, 26.7], "nice": false, "zero": false}, "axis": null}}},
        {"data": {"name": "a5"}, "mark": {"type": "text", "align": "left", "baseline": "alphabetic", "fontSize": 12, "fontWeight": "bold", "color": "black"}, "encoding": {"text": {"field": "a"}}},
        {"data": {"name": "a5"}, "transform": [{"filter": "datum.k == 'VDD'"}], "mark": {"type": "text", "align": "left", "baseline": "alphabetic", "fontSize": 8.5, "fontWeight": "bold", "color": "black", "dx": 8.2, "dy": 3}, "encoding": {"text": {"field": "b"}}},
        {"data": {"name": "a5"}, "transform": [{"filter": "datum.k == 'VDD'"}], "mark": {"type": "text", "align": "left", "baseline": "alphabetic", "fontSize": 12, "fontWeight": "bold", "color": "black", "dx": 23.8}, "encoding": {"text": {"field": "c"}}}
      ]
    }
  ]},
  {"spacing": 75, "hconcat": [
    {"spacing": 0, "vconcat": [
      {"spacing": 0, "hconcat": [
        {"width": 188, "height": 23, "mark": "point", "title": {"text": "FIGURE 2-2:", "fontSize": 20.5, "fontWeight": "bold", "fontStyle": "italic", "dx": 1.5, "offset": -22.3}},
        {"width": 261, "height": 23, "mark": "point", "title": {"text": "Input Offset Voltage Drift.", "fontSize": 20.5, "fontStyle": "italic", "offset": -22.3}}
      ]},
      {"width": 449, "height": 27, "mark": "point"}
    ]},
    {"spacing": 0, "vconcat": [
      {"spacing": 0, "hconcat": [
        {"width": 188, "height": 23, "mark": "point", "title": {"text": "FIGURE 2-5:", "fontSize": 20.5, "fontWeight": "bold", "fontStyle": "italic", "dx": 1.5, "offset": -22.3}},
        {"width": 261, "height": 23, "mark": "point", "title": {"text": "Input Offset Voltage vs.", "fontSize": 20.5, "fontStyle": "italic", "offset": -22.3}}
      ]},
      {"width": 449, "height": 27, "mark": "point", "title": {"text": "Output Voltage.", "fontSize": 20.5, "fontStyle": "italic", "dx": 1.5, "offset": -24.3}}
    ]}
  ]},
  {"width": 974, "height": 20.5, "mark": "point"},
  {"spacing": 75, "hconcat": [
    {
      "width": 449, "height": 299, "view": {"stroke": "black", "strokeWidth": 1},
      "resolve": {"axis": {"x": "independent", "y": "independent"}},
      "encoding": {
        "x": {"field": "x", "type": "quantitative", "scale": {"domain": [-0.5, 6.5], "range": [96.3, 417.3], "nice": false, "zero": false}, "axis": null},
        "y": {"field": "y", "type": "quantitative", "scale": {"domain": [-500, 3000], "range": [232.3, 28.3], "nice": false, "zero": false}, "axis": null}
      },
      "layer": [
        {"data": {"values": [{"x": -0.092, "x2": 2.705, "y": 2856, "y2": 2142}, {"x": 2.998, "x2": 4.668, "y": 2113, "y2": 912}]}, "mark": {"type": "rect", "fill": "white"},
         "encoding": {"x": {"field": "x", "type": "quantitative", "scale": {"domain": [-0.5, 6.5], "range": [96.3, 417.3], "nice": false, "zero": false}, "axis": {"orient": "top", "values": [-0.5,0,0.5,1,1.5,2,2.5,3,3.5,4,4.5,5,5.5,6,6.5], "grid": true, "labels": false, "ticks": false, "domain": false, "title": null}}, "x2": {"field": "x2"}, "y2": {"field": "y2"}}},
        {"data": {"name": "l3"}, "mark": {"type": "line", "strokeWidth": 1.8, "interpolate": "monotone"},
         "encoding": {
           "x": {"field": "x", "type": "quantitative", "scale": {"domain": [-0.5, 6.5], "range": [96.3, 417.3], "nice": false, "zero": false}, "axis": {"orient": "bottom", "offset": -66.7, "values": [-0.5,0,0.5,1,1.5,2,2.5,3,3.5,4,4.5,5,5.5,6,6.5], "format": ".1f", "labelAngle": -90, "labelFontSize": 13, "grid": false, "title": "Common Mode Input Voltage (V)", "titleY": 49.4, "titleBaseline": "alphabetic"}},
           "y": {"field": "y", "type": "quantitative", "scale": {"domain": [-500, 3000], "range": [232.3, 28.3], "nice": false, "zero": false}, "axis": {"orient": "left", "offset": -96.3, "values": [-500,0,500,1000,1500,2000,2500,3000], "format": "d", "labelPadding": 7, "grid": true, "title": "Input Offset Voltage (µV)", "titleX": -51.1, "titleBaseline": "alphabetic"}},
           "color": {"field": "s", "type": "nominal", "scale": {"domain": ["-40","25","85","125","1.4","6.0"], "range": ["#0000ff","#339966","#ff9900","#ff0000","#0000ff","#ff0000"]}, "legend": null}
         }},
        {"data": {"name": "r3"}, "mark": {"type": "rule", "color": "black", "strokeWidth": 1}, "encoding": {"x2": {"field": "x2"}, "y2": {"field": "y2"}}},
        {"data": {"name": "r3"}, "mark": {"type": "point", "shape": "triangle-right", "filled": true, "color": "black", "opacity": 1, "size": 35, "angle": 51},
         "encoding": {"x": {"field": "x2", "type": "quantitative", "scale": {"domain": [-0.5, 6.5], "range": [96.3, 417.3], "nice": false, "zero": false}, "axis": null}, "y": {"field": "y2", "type": "quantitative", "scale": {"domain": [-500, 3000], "range": [232.3, 28.3], "nice": false, "zero": false}, "axis": null}}},
        {"data": {"name": "a3"}, "mark": {"type": "text", "align": "left", "baseline": "alphabetic", "fontSize": 12, "fontWeight": "bold", "color": "black"}, "encoding": {"text": {"field": "a"}}},
        {"data": {"name": "a3"}, "transform": [{"filter": "datum.k == 'TA'"}], "mark": {"type": "text", "align": "left", "baseline": "alphabetic", "fontSize": 8.5, "fontWeight": "bold", "color": "black", "dx": 7.5, "dy": 3}, "encoding": {"text": {"field": "b"}}},
        {"data": {"name": "a3"}, "transform": [{"filter": "datum.k == 'TA'"}], "mark": {"type": "text", "align": "left", "baseline": "alphabetic", "fontSize": 12, "fontWeight": "bold", "color": "black", "dx": 16.5}, "encoding": {"text": {"field": "c"}}},
        {"data": {"name": "a3"}, "transform": [{"filter": "datum.k == 'VDD'"}], "mark": {"type": "text", "align": "left", "baseline": "alphabetic", "fontSize": 8.5, "fontWeight": "bold", "color": "black", "dx": 8.2, "dy": 3}, "encoding": {"text": {"field": "b"}}},
        {"data": {"name": "a3"}, "transform": [{"filter": "datum.k == 'VDD'"}], "mark": {"type": "text", "align": "left", "baseline": "alphabetic", "fontSize": 12, "fontWeight": "bold", "color": "black", "dx": 23.8}, "encoding": {"text": {"field": "c"}}}
      ]
    },
    {
      "width": 449, "height": 299, "view": {"stroke": "black", "strokeWidth": 1},
      "resolve": {"axis": {"x": "independent", "y": "independent"}},
      "encoding": {
        "x": {"field": "x", "type": "quantitative", "scale": {"domain": [1, 6.5], "range": [100, 417.3], "nice": false, "zero": false}, "axis": null},
        "y": {"field": "y", "type": "quantitative", "scale": {"domain": [-2000, 2000], "range": [227.3, 24], "nice": false, "zero": false}, "axis": null}
      },
      "layer": [
        {"data": {"values": [{"x": 4.06, "x2": 6.23, "y": 1750, "y2": 1390}, {"x": 1.78, "x2": 3.08, "y": 1848, "y2": 570}]}, "mark": {"type": "rect", "fill": "white"},
         "encoding": {"x": {"field": "x", "type": "quantitative", "scale": {"domain": [1, 6.5], "range": [100, 417.3], "nice": false, "zero": false}, "axis": {"orient": "top", "values": [1,1.5,2,2.5,3,3.5,4,4.5,5,5.5,6,6.5], "grid": true, "labels": false, "ticks": false, "domain": false, "title": null}}, "x2": {"field": "x2"}, "y2": {"field": "y2"}}},
        {"data": {"name": "l6"}, "mark": {"type": "line", "strokeWidth": 1.8, "interpolate": "monotone"},
         "encoding": {
           "x": {"field": "x", "type": "quantitative", "scale": {"domain": [1, 6.5], "range": [100, 417.3], "nice": false, "zero": false}, "axis": {"orient": "bottom", "offset": -71.7, "values": [1,1.5,2,2.5,3,3.5,4,4.5,5,5.5,6,6.5], "format": ".1f", "labelAngle": -90, "labelFontSize": 13, "grid": false, "title": "Power Supply Voltage (V)", "titleY": 49.4, "titleBaseline": "alphabetic"}},
           "y": {"field": "y", "type": "quantitative", "scale": {"domain": [-2000, 2000], "range": [227.3, 24], "nice": false, "zero": false}, "axis": {"orient": "left", "offset": -100, "values": [-2000,-1600,-1200,-800,-400,0,400,800,1200,1600,2000], "format": "d", "labelPadding": 7, "grid": true, "title": "Input Offset Voltage (µV)", "titleX": -55.8, "titleBaseline": "alphabetic"}},
           "color": {"field": "s", "type": "nominal", "scale": {"domain": ["-40","25","85","125","1.4","6.0"], "range": ["#0000ff","#339966","#ff9900","#ff0000","#0000ff","#ff0000"]}, "legend": null}
         }},
        {"data": {"name": "r6"}, "mark": {"type": "rule", "color": "black", "strokeWidth": 1}, "encoding": {"x2": {"field": "x2"}, "y2": {"field": "y2"}}},
        {"data": {"name": "r6"}, "mark": {"type": "point", "shape": "triangle-right", "filled": true, "color": "black", "opacity": 1, "size": 35, "angle": 55},
         "encoding": {"x": {"field": "x2", "type": "quantitative", "scale": {"domain": [1, 6.5], "range": [100, 417.3], "nice": false, "zero": false}, "axis": null}, "y": {"field": "y2", "type": "quantitative", "scale": {"domain": [-2000, 2000], "range": [227.3, 24], "nice": false, "zero": false}, "axis": null}}},
        {"data": {"name": "a6"}, "mark": {"type": "text", "align": "left", "baseline": "alphabetic", "fontSize": 12, "fontWeight": "bold", "color": "black"}, "encoding": {"text": {"field": "a"}}},
        {"data": {"name": "a6"}, "transform": [{"filter": "datum.k == 'TA'"}], "mark": {"type": "text", "align": "left", "baseline": "alphabetic", "fontSize": 8.5, "fontWeight": "bold", "color": "black", "dx": 7.5, "dy": 3}, "encoding": {"text": {"field": "b"}}},
        {"data": {"name": "a6"}, "transform": [{"filter": "datum.k == 'TA'"}], "mark": {"type": "text", "align": "left", "baseline": "alphabetic", "fontSize": 12, "fontWeight": "bold", "color": "black", "dx": 16.5}, "encoding": {"text": {"field": "c"}}}
      ]
    }
  ]},
  {"spacing": 75, "hconcat": [
    {"spacing": 0, "vconcat": [
      {"spacing": 0, "hconcat": [
        {"width": 188, "height": 23, "mark": "point", "title": {"text": "FIGURE 2-3:", "fontSize": 20.5, "fontWeight": "bold", "fontStyle": "italic", "dx": 1.5, "offset": -22.3}},
        {"width": 261, "height": 23, "mark": "point", "title": {"text": "Input Offset Voltage vs.", "fontSize": 20.5, "fontStyle": "italic", "offset": -22.3}}
      ]},
      {"spacing": 0, "hconcat": [
        {"width": 329.6, "height": 27, "mark": "point", "title": {"text": "Common Mode Input Voltage with V", "fontSize": 20.5, "fontStyle": "italic", "dx": 1.5, "offset": -24.3}},
        {"width": 20.9, "height": 27, "mark": "point", "title": {"text": "DD", "fontSize": 14.5, "fontStyle": "italic", "offset": -27}},
        {"width": 98.5, "height": 27, "mark": "point", "title": {"text": "= 6.0V.", "fontSize": 20.5, "fontStyle": "italic", "dx": 5.7, "offset": -24.3}}
      ]}
    ]},
    {"spacing": 0, "vconcat": [
      {"spacing": 0, "hconcat": [
        {"width": 188, "height": 23, "mark": "point", "title": {"text": "FIGURE 2-6:", "fontSize": 20.5, "fontWeight": "bold", "fontStyle": "italic", "dx": 1.5, "offset": -22.3}},
        {"width": 261, "height": 23, "mark": "point", "title": {"text": "Input Offset Voltage vs.", "fontSize": 20.5, "fontStyle": "italic", "offset": -22.3}}
      ]},
      {"width": 449, "height": 27, "mark": "point", "title": {"text": "Power Supply Voltage.", "fontSize": 20.5, "fontStyle": "italic", "dx": 1.5, "offset": -24.3}}
    ]}
  ]},
  {"width": 974, "height": 99, "mark": "point"},
  {"width": 974, "height": 2, "mark": "point", "view": {"fill": "black"}},
  {"width": 974, "height": 4, "mark": "point"},
  {"width": 974, "height": 6, "mark": "point", "view": {"fill": "black"}},
  {"spacing": 0, "hconcat": [
    {"width": 487, "height": 32, "mark": "point", "title": {"text": "© 2010-2012 Microchip Technology Inc.", "fontSize": 16.5, "offset": -30.5}},
    {"width": 487, "height": 32, "mark": "point", "title": {"text": "DS22257C-page 5", "anchor": "end", "fontSize": 16.5, "offset": -30.5}}
  ]}
]
}
